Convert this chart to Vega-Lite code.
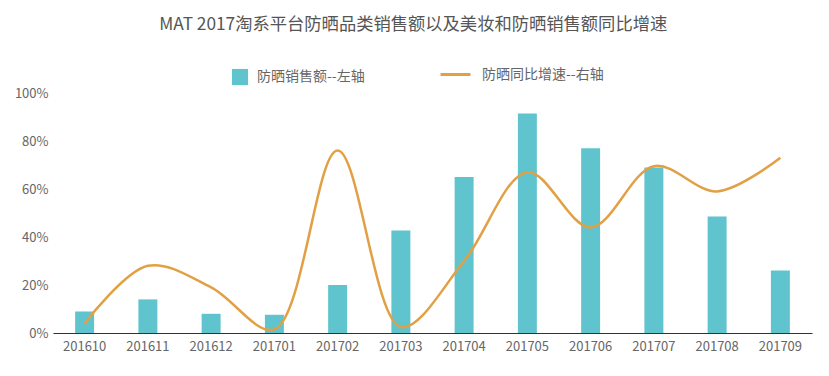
{
  "$schema": "https://vega.github.io/schema/vega-lite/v6.json",
  "width": 759,
  "height": 240,
  "autosize": {"type": "none"},
  "padding": {"left": 53, "top": 93, "right": 17, "bottom": 43},
  "background": "white",
  "title": {
    "text": "MAT 2017淘系平台防晒品类销售额以及美妆和防晒销售额同比增速",
    "anchor": "middle",
    "frame": "bounds",
    "fontSize": 17.3,
    "fontWeight": "normal",
    "color": "#555555",
    "font": "Noto Sans CJK SC",
    "offset": 25
  },
  "config": {
    "view": {"stroke": null},
    "font": "Noto Sans CJK SC"
  },
  "data": {
    "values": [
      {"month": "201610", "sales": 0.09, "growth": 0.04},
      {"month": "201611", "sales": 0.14, "growth": 0.28},
      {"month": "201612", "sales": 0.08, "growth": 0.19},
      {"month": "201701", "sales": 0.076, "growth": 0.015},
      {"month": "201702", "sales": 0.20, "growth": 0.76},
      {"month": "201703", "sales": 0.427, "growth": 0.025},
      {"month": "201704", "sales": 0.65, "growth": 0.30},
      {"month": "201705", "sales": 0.915, "growth": 0.67},
      {"month": "201706", "sales": 0.77, "growth": 0.44},
      {"month": "201707", "sales": 0.69, "growth": 0.695},
      {"month": "201708", "sales": 0.485, "growth": 0.59},
      {"month": "201709", "sales": 0.26, "growth": 0.73}
    ]
  },
  "encoding": {
    "x": {
      "field": "month",
      "type": "ordinal",
      "scale": {"paddingInner": 0.7, "paddingOuter": 0.35},
      "axis": {
        "title": null,
        "labelAngle": 0,
        "ticks": false,
        "domainColor": "#333333",
        "domainWidth": 1,
        "labelColor": "#666666",
        "labelFontSize": 13,
        "labelPadding": 7
      }
    }
  },
  "layer": [
    {
      "mark": {"type": "bar", "color": "#5fc4cd"},
      "encoding": {
        "y": {
          "field": "sales",
          "type": "quantitative",
          "scale": {"domain": [0, 1]},
          "axis": {
            "title": null,
            "format": "%",
            "values": [0, 0.2, 0.4, 0.6, 0.8, 1],
            "grid": false,
            "domain": false,
            "ticks": false,
            "labelColor": "#666666",
            "labelFontSize": 13,
            "labelPadding": 5
          }
        },
        "fill": {
          "datum": "防晒销售额--左轴",
          "type": "nominal",
          "scale": {"range": ["#5fc4cd"]},
          "legend": {
            "title": null,
            "orient": "none",
            "legendX": 178,
            "legendY": -25,
            "symbolType": "square",
            "symbolSize": 260,
            "labelFontSize": 14,
            "labelColor": "#666666",
            "labelOffset": 8
          }
        }
      }
    },
    {
      "mark": {"type": "line", "interpolate": "catmull-rom", "strokeWidth": 2.5, "color": "#e2a045"},
      "encoding": {
        "y": {"field": "growth", "type": "quantitative"},
        "stroke": {
          "datum": "防晒同比增速--右轴",
          "type": "nominal",
          "scale": {"range": ["#e2a045"]},
          "legend": {
            "title": null,
            "orient": "none",
            "legendX": 386,
            "legendY": -35,
            "symbolType": "stroke",
            "symbolSize": 900,
            "symbolStrokeWidth": 3,
            "labelFontSize": 14,
            "labelColor": "#666666",
            "labelOffset": 10
          }
        }
      }
    }
  ]
}
